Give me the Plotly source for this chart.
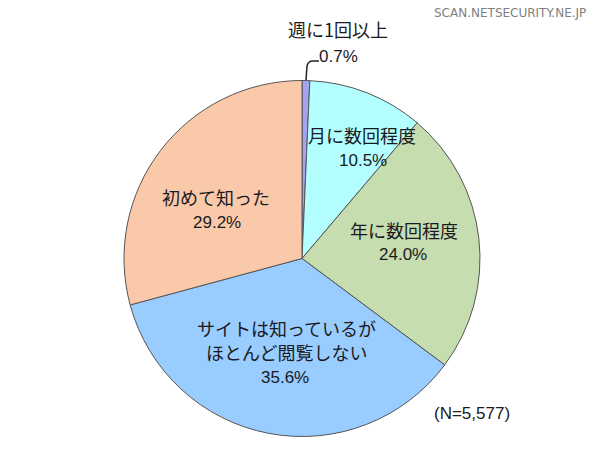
import plotly.graph_objects as go

W, H = 600, 465

labels = ["週に1回以上", "月に数回程度", "年に数回程度", "サイトは知っているが<br>ほとんど閲覧しない", "初めて知った"]
values = [0.7, 10.5, 24.0, 35.6, 29.2]
colors = ["#A3A3F0", "#B3FFFF", "#C6DDB0", "#99CCFF", "#FAC9A9"]
n_text = "(N=5,577)"
source = "SCAN.NETSECURITY.NE.JP"

def px(x):
    return x / W

def py(y):
    return 1 - y / H

fig = go.Figure(go.Pie(
    labels=labels, values=values, sort=False, direction="clockwise", rotation=0,
    marker=dict(colors=colors, line=dict(color="#555555", width=1)),
    textinfo="none", hoverinfo="label+percent", showlegend=False,
    domain=dict(x=[px(124), px(480)], y=[py(437), py(80)]),
))

jp_font = "Noto Sans CJK JP"
num_font = "Liberation Sans Narrow, Liberation Sans, Arial"
tc = "#1A1A22"
# label positions (pixels) for each slice: first name line and percentage line
label_pos = [
    (338, 29, 338, 57),
    (362, 135, 363, 160),
    (404, 230, 403, 255),
    (286, 328, 285, 377),
    (216, 197, 217, 223),
]
line_gap = 24
ann = []
for lab, v, (lx, ly, vx, vy) in zip(labels, values, label_pos):
    for i, part in enumerate(lab.split("<br>")):
        ann.append(dict(x=px(lx), y=py(ly + i * line_gap), xref="paper", yref="paper", text=part,
                        showarrow=False, font=dict(family=jp_font, size=18, color=tc),
                        xanchor="center", yanchor="middle"))
    ann.append(dict(x=px(vx), y=py(vy), xref="paper", yref="paper", text=f"{v:.1f}%",
                    showarrow=False, font=dict(family=num_font, size=17, color=tc),
                    xanchor="center", yanchor="middle"))
ann.append(dict(x=px(472), y=py(413), xref="paper", yref="paper", text=n_text,
                showarrow=False, font=dict(family="Liberation Sans, Arial", size=17, color=tc),
                xanchor="center", yanchor="middle"))
ann.append(dict(x=px(510), y=py(13), xref="paper", yref="paper", text=source,
                showarrow=False, font=dict(family="DejaVu Sans", size=12, color="#808080"),
                xanchor="center", yanchor="middle"))

fig.update_layout(
    width=W, height=H, margin=dict(l=0, r=0, t=0, b=0),
    paper_bgcolor="white", plot_bgcolor="white",
    annotations=ann,
    shapes=[dict(type="path", xref="paper", yref="paper",
                 path=f"M {px(306)},{py(80)} L {px(307)},{py(66)} Q {px(308)},{py(61)} {px(313)},{py(61)} L {px(319)},{py(61)}",
                 line=dict(color="#222222", width=1.5))],
)

fig.write_html("out.html")
